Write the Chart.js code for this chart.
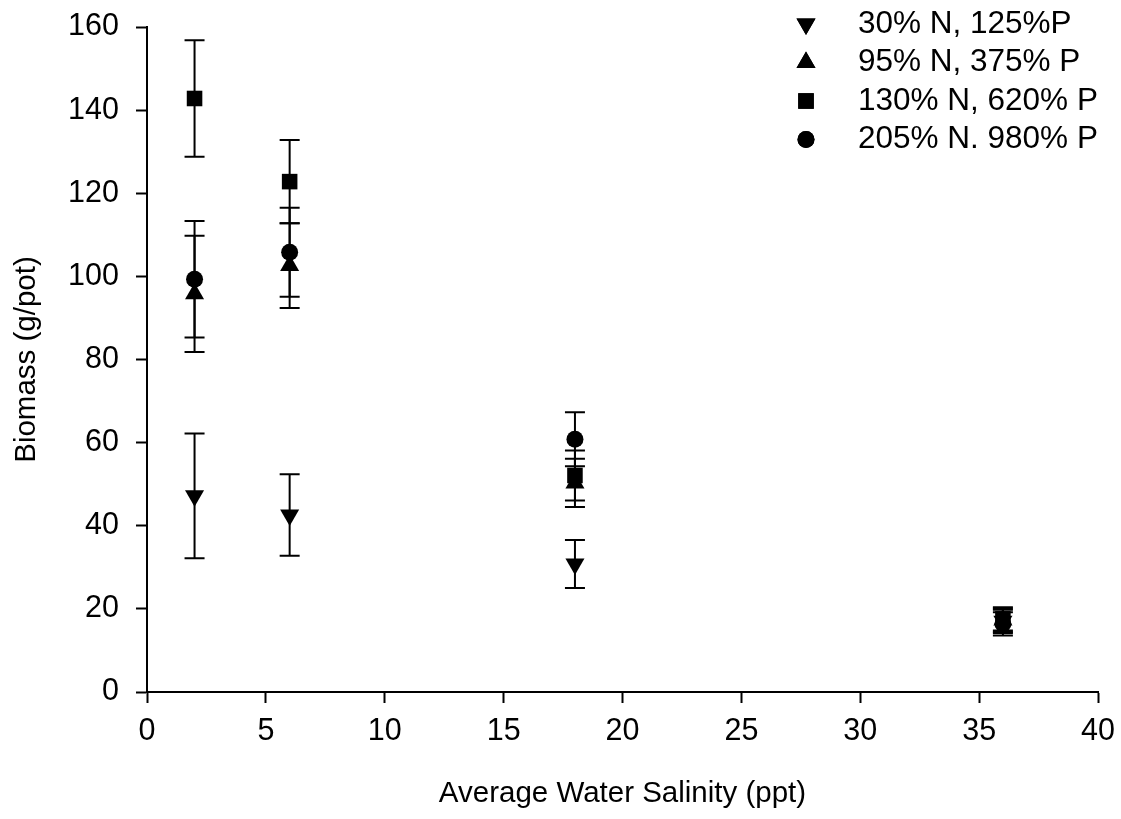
<!DOCTYPE html>
<html>
<head>
<meta charset="utf-8">
<script src="https://cdn.jsdelivr.net/npm/chart.js@4.4.1/dist/chart.umd.min.js"></script>
<style>
    body { margin: 0; background: #fff; }
</style>
</head>
<body>
<canvas id="biomassChart" width="1121" height="819"></canvas>
<script>
// salinity levels (ppt)
const salinity = [2, 6, 18, 36];

const seriesLabels = ['30% N, 125%P', '95% N, 375% P', '130% N, 620% P', '205% N. 980% P'];

// mean biomass (g/pot) and error per series
const lowMean = [47.2, 42.6, 30.8, 17.0];
const lowErr = [15.0, 9.8, 5.8, 2.8];
const midMean = [95.8, 102.6, 50.3, 17.3];
const midErr = [14.0, 10.2, 5.8, 2.8];
const highMean = [142.8, 122.8, 52.1, 17.6];
const highErr = [14.0, 10.0, 6.0, 2.8];
const topMean = [99.3, 105.8, 60.8, 16.4];
const topErr = [14.0, 10.7, 6.5, 2.8];

const yTicks = [0, 20, 40, 60, 80, 100, 120, 140, 160];

const fontFamily = '"Liberation Sans", Arial, sans-serif';

function toPoints(means, errs) {
    return salinity.map((x, i) => ({ x: x, y: means[i], err: errs[i] }));
}

const errorBars = {
    id: 'errorBars',
    beforeDatasetsDraw(chart) {
        const ctx = chart.ctx;
        const xs = chart.scales.x;
        const ys = chart.scales.y;
        ctx.save();
        ctx.strokeStyle = '#000';
        ctx.lineWidth = 2;
        chart.data.datasets.forEach(ds => {
            ds.data.forEach(p => {
                const px = xs.getPixelForValue(p.x);
                const top = ys.getPixelForValue(p.y + p.err);
                const bot = ys.getPixelForValue(p.y - p.err);
                ctx.beginPath();
                ctx.moveTo(px, top);
                ctx.lineTo(px, bot);
                ctx.moveTo(px - 10, top);
                ctx.lineTo(px + 10, top);
                ctx.moveTo(px - 10, bot);
                ctx.lineTo(px + 10, bot);
                ctx.stroke();
            });
        });
        ctx.restore();
    }
};

const cornerLegend = {
    id: 'cornerLegend',
    afterDraw(chart) {
        const ctx = chart.ctx;
        ctx.save();
        ctx.font = '31.5px ' + fontFamily;
        ctx.textBaseline = 'middle';
        ctx.textAlign = 'left';
        chart.data.datasets.forEach((ds, i) => {
            const y = 24 + i * 38.5;
            ctx.fillStyle = '#000';
            Chart.helpers.drawPoint(ctx, {
                pointStyle: ds.pointStyle,
                radius: ds.pointRadius,
                rotation: ds.pointRotation || 0,
                borderWidth: 0
            }, 806, y);
            ctx.fill();
            ctx.fillText(ds.label, 858, y);
        });
        ctx.restore();
    }
};

const ctx = document.getElementById('biomassChart').getContext('2d');
new Chart(ctx, {
    type: 'scatter',
    data: {
        datasets: [
            {
                label: seriesLabels[0],
                data: toPoints(lowMean, lowErr),
                pointStyle: 'triangle',
                pointRotation: 180,
                pointRadius: 11
            },
            {
                label: seriesLabels[1],
                data: toPoints(midMean, midErr),
                pointStyle: 'triangle',
                pointRadius: 11
            },
            {
                label: seriesLabels[2],
                data: toPoints(highMean, highErr),
                pointStyle: 'rect',
                pointRadius: 11
            },
            {
                label: seriesLabels[3],
                data: toPoints(topMean, topErr),
                pointStyle: 'circle',
                pointRadius: 8.5
            }
        ].map(ds => Object.assign(ds, {
            backgroundColor: '#000',
            borderColor: '#000',
            borderWidth: 0,
            pointHoverRadius: ds.pointRadius
        }))
    },
    options: {
        responsive: false,
        animation: false,
        events: [],
        layout: {
            padding: { top: 27, right: 23, left: 0, bottom: 0 }
        },
        plugins: {
            legend: { display: false },
            tooltip: { enabled: false }
        },
        scales: {
            x: {
                type: 'linear',
                min: 0,
                max: 40,
                ticks: {
                    stepSize: 5,
                    padding: 10,
                    color: '#000',
                    maxRotation: 0,
                    font: { family: fontFamily, size: 30.5 }
                },
                grid: {
                    drawOnChartArea: false,
                    tickLength: 11,
                    tickColor: '#000',
                    tickWidth: 2
                },
                border: { color: '#000', width: 2 },
                title: {
                    display: true,
                    text: 'Average Water Salinity (ppt)',
                    color: '#000',
                    padding: { top: 0, bottom: 7 },
                    font: { family: fontFamily, size: 29.5 }
                },
                afterFit: scale => {
                    scale.height = 127;
                    scale.paddingLeft = 0;
                    scale.paddingRight = 0;
                }
            },
            y: {
                min: 0,
                max: 160,
                afterBuildTicks: scale => {
                    scale.ticks = yTicks.map(v => ({ value: v }));
                },
                ticks: {
                    padding: 17,
                    color: '#000',
                    font: { family: fontFamily, size: 30.5 }
                },
                grid: {
                    drawOnChartArea: false,
                    tickLength: 11,
                    tickColor: '#000',
                    tickWidth: 2
                },
                border: { color: '#000', width: 2 },
                title: {
                    display: true,
                    text: 'Biomass (g/pot)',
                    color: '#000',
                    padding: { top: 9, bottom: 0 },
                    font: { family: fontFamily, size: 29.5 }
                },
                afterFit: scale => {
                    scale.width = 147;
                    scale.paddingTop = 0;
                    scale.paddingBottom = 0;
                }
            }
        }
    },
    plugins: [errorBars, cornerLegend]
});
</script>
</body>
</html>
